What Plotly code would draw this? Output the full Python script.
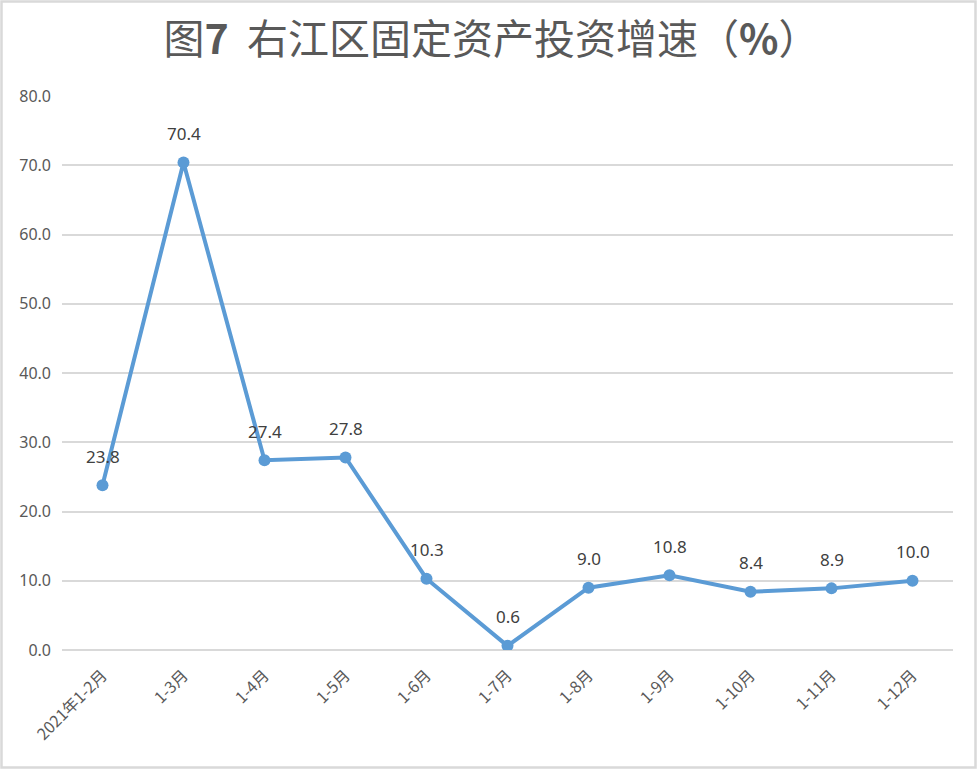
import plotly.graph_objects as go

categories = ["2021年1-2月", "1-3月", "1-4月", "1-5月", "1-6月", "1-7月",
              "1-8月", "1-9月", "1-10月", "1-11月", "1-12月"]
growth = [23.8, 70.4, 27.4, 27.8, 10.3, 0.6, 9.0, 10.8, 8.4, 8.9, 10.0]
y_ticks = [0, 10, 20, 30, 40, 50, 60, 70, 80]
y_tick_labels = [f"{v:.1f}" for v in y_ticks]

W, H = 977, 769
L, R, T, B = 62, 24, 96, 119
pw, ph = W - L - R, H - T - B

fig = go.Figure()
fig.add_trace(go.Scatter(
    x=categories, y=growth, mode="lines+markers",
    line=dict(color="#5B9BD5", width=4),
    marker=dict(color="#5B9BD5", size=12),
    hoverinfo="skip", showlegend=False,
))
for c, v in zip(categories, growth):
    fig.add_annotation(x=c, y=v, text=f"{v:.1f}", showarrow=False,
                       yshift=29, yanchor="middle",
                       font=dict(family="Noto Sans, Liberation Sans", size=17, color="#404040"))

def px2x(p):
    return (p - L) / pw

def py2y(p):
    return 1 - (p - T) / ph

fig.add_shape(type="rect", xref="paper", yref="paper",
              x0=px2x(1.5), x1=px2x(975.5), y0=py2y(767.5), y1=py2y(1.5),
              line=dict(color="#D9D9D9", width=2.5), layer="below")

fig.update_layout(
    width=W, height=H,
    margin=dict(l=L, r=R, t=T, b=B),
    paper_bgcolor="white", plot_bgcolor="white",
    title=dict(text="图<b>7</b>  右江区固定资产投资增速（<b>%</b>）", x=0.503, xanchor="center",
               y=1 - 40 / H, yanchor="middle",
               font=dict(family="Noto Sans CJK SC", size=41, color="#595959", weight=400)),
    xaxis=dict(type="category", tickangle=-45, showgrid=False, showline=False,
               ticks="", ticklabelstandoff=12,
               tickfont=dict(family="Noto Sans CJK SC", size=16, color="#595959"),
               range=[-0.5, len(categories) - 0.5], fixedrange=True),
    yaxis=dict(range=[0, 80], tickvals=y_ticks, ticktext=y_tick_labels,
               showgrid=True, gridcolor="#D9D9D9", gridwidth=1.5,
               zeroline=True, zerolinecolor="#D9D9D9", zerolinewidth=1.5,
               showline=False, ticks="", ticklabelstandoff=10,
               tickfont=dict(family="Noto Sans, Liberation Sans", size=16, color="#595959"),
               fixedrange=True),
)
fig.write_html("out.html", config={"displayModeBar": False},
               post_script="document.body.style.margin='0px';document.body.style.overflow='hidden';")
